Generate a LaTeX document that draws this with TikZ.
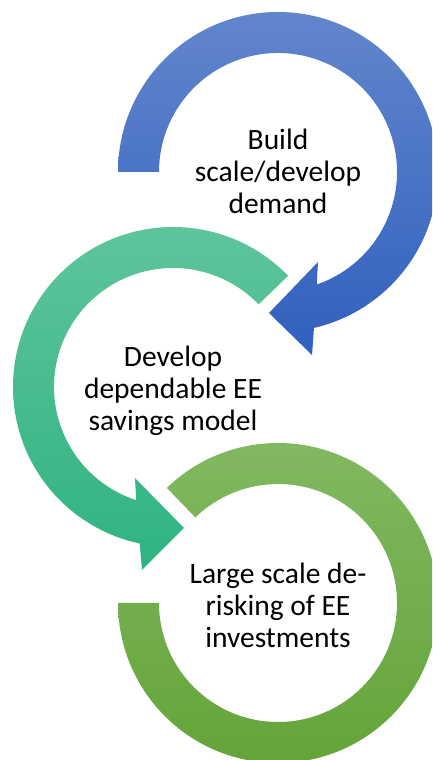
\documentclass[tikz,border=0pt]{standalone}
\usepackage{fontspec}
\setmainfont{Carlito}
\definecolor{bluetop}{RGB}{98,134,204}
\definecolor{bluebot}{RGB}{48,96,190}
\definecolor{tealtop}{RGB}{96,197,157}
\definecolor{tealbot}{RGB}{47,179,129}
\definecolor{greentop}{RGB}{131,185,99}
\definecolor{greenbot}{RGB}{99,163,55}
\tikzset{
  label text/.style={align=center, font=\fontsize{29.5}{32}\selectfont},
}
\begin{document}
\begin{tikzpicture}[x=1pt,y=1pt]
\clip (0,0) rectangle (432,760);
\fill[white] (0,0) rectangle (432,760);
% blue ring, arrow into the teal one
\begin{scope}[shift={(278,588)}]
\shade[top color=bluetop, bottom color=bluebot]
  (180:160pt) arc[start angle=180, end angle=-77, radius=160pt]
  -- (34,-183) -- (-9,-141) -- (40,-90)
  -- (-71:119pt) arc[start angle=-71, end angle=180, radius=119pt] -- cycle;
\node[label text] (build) at (0,1) {Build\\scale/develop\\demand};
\end{scope}
% teal ring, arrow into the green one
\begin{scope}[shift={(173,373)}]
\shade[top color=tealtop, bottom color=tealbot]
  (44:160pt) arc[start angle=44, end angle=258, radius=160pt]
  -- (-31,-183) -- (11,-141) -- (-38,-91)
  -- (252:119pt) arc[start angle=252, end angle=44, radius=119pt] -- cycle;
\node[label text] (develop) at (0,-4) {Develop\\dependable EE\\savings model};
\end{scope}
% green ring
\begin{scope}[shift={(278,157)}]
\shade[top color=greentop, bottom color=greenbot]
  (134:160pt) arc[start angle=134, end angle=-180, radius=160pt]
  -- (180:119pt) arc[start angle=-180, end angle=134, radius=119pt] -- cycle;
\node[label text] (derisk) at (0,-2) {Large scale de-\\risking of EE\\investments};
\end{scope}
\end{tikzpicture}
\end{document}
